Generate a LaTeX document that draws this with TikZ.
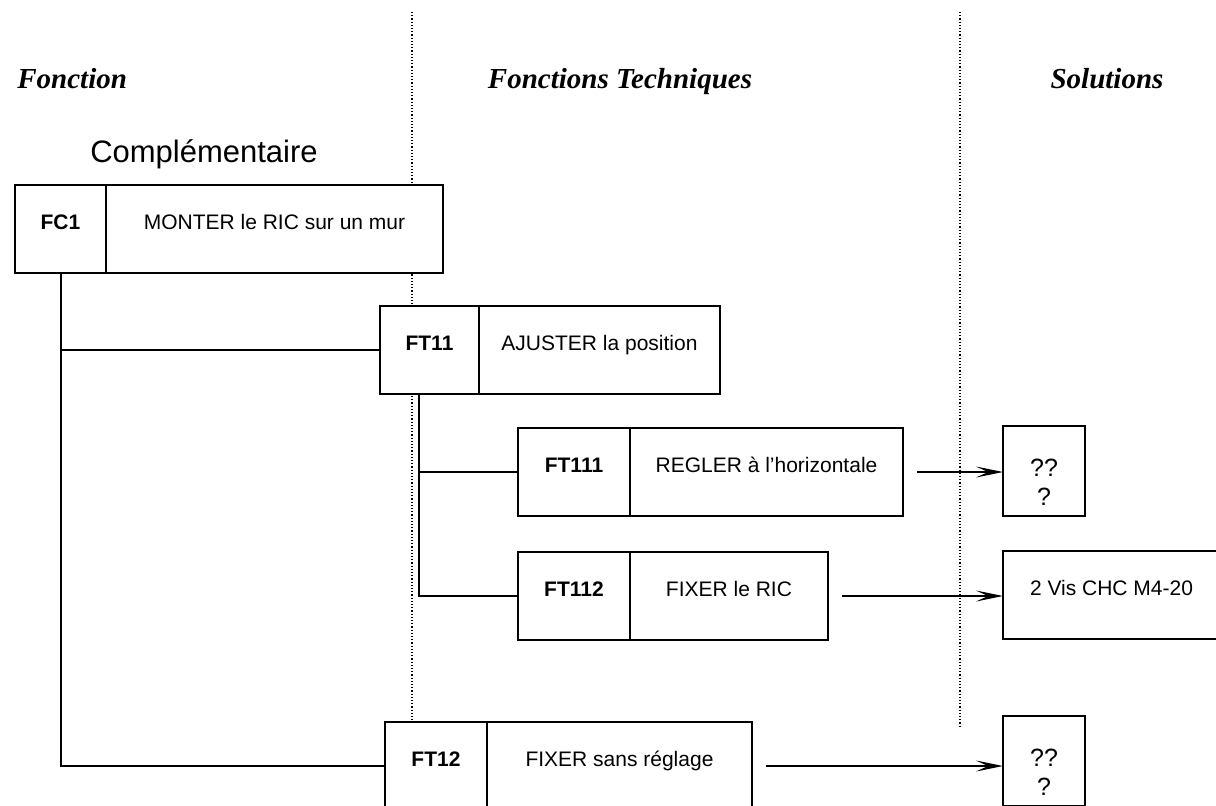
\documentclass[tikz,border=0pt]{standalone}
\usepackage{fontspec}
\setmainfont{Liberation Sans}
\newfontfamily\headfont{Liberation Serif}
\usetikzlibrary{positioning,arrows.meta}

\begin{document}
\begin{tikzpicture}[x=0.5pt, y=-0.5pt,
    cell/.style={draw, line width=1pt, fill=white, inner sep=0pt, outer sep=0pt, text height=22pt, text depth=22pt, font=\fontsize{10.5}{12}\selectfont},
    code/.style={cell, font=\fontsize{10.5}{12}\selectfont\bfseries},
    sol/.style={cell, text height=39.5pt, text depth=5.5pt, align=center, font=\fontsize{12.5}{14.5}\selectfont},
    head/.style={font=\headfont\fontsize{14.5}{16}\selectfont\bfseries\itshape, anchor=base, inner sep=0pt},
    link/.style={line width=1pt},
    arrow/.style={-{Stealth[length=13.5pt, width=5.5pt, inset=6pt]}, line width=0.8pt, shorten <=7pt},
    sep/.style={densely dotted, line width=0.6pt},
]
\useasboundingbox (0,0) rectangle (1216,805);
\clip (0,0) rectangle (1216,805);

% Column dividers
\draw[sep] (412,12) -- (412,722);
\draw[sep] (960,12) -- (960,728);

% Headings
\node[head, anchor=base west] (hfc) at (17,88) {Fonction};
\node[head] (hft) at (620,88) {Fonctions Techniques};
\node[head] (hsol) at (1107,88) {Solutions};
\node[font=\fontsize{15.5}{18}\selectfont, anchor=base, inner sep=0pt] (hcompl) at (204,162) {Complémentaire};

% Functions
\node[code, minimum width=45.5pt] (fc1) at (60.5,229) {FC1};
\node[cell, minimum width=168.5pt, right=0pt of fc1] (fc1t) {MONTER le RIC sur un mur};

\node[code, minimum width=49.5pt] (ft11) at (429.5,350) {FT11};
\node[cell, minimum width=120.5pt, right=0pt of ft11] (ft11t) {AJUSTER la position};

\node[code, minimum width=56pt] (ft111) at (574,472) {FT111};
\node[cell, minimum width=136.5pt, right=0pt of ft111] (ft111t) {REGLER à l'horizontale};

\node[code, minimum width=56pt] (ft112) at (574,596) {FT112};
\node[cell, minimum width=99pt, right=0pt of ft112] (ft112t) {FIXER le RIC};

\node[code, minimum width=51pt] (ft12) at (436,766) {FT12};
\node[cell, minimum width=132.5pt, right=0pt of ft12] (ft12t) {FIXER sans réglage};

% Solutions
\node[sol, minimum width=41pt] (s1) at (1044,471) {??\\?};
\node[cell, minimum width=108.5pt, anchor=west] (s2) at (1003,595) {2 Vis CHC M4-20};
\node[sol, minimum width=41pt] (s3) at (1044,761) {??\\?};

% Tree
\draw[link] (fc1.south) |- (ft11.west);
\draw[link] (fc1.south) |- (ft12.west);
\draw[link] ([xshift=-5.5pt]ft11.south) |- (ft111.west);
\draw[link] ([xshift=-5.5pt]ft11.south) |- (ft112.west);

\draw[arrow] (ft111t.east) -- (ft111t.east -| s1.west);
\draw[arrow] (ft112t.east) -- (ft112t.east -| s2.west);
\draw[arrow] (ft12t.east) -- (ft12t.east -| s3.west);
\end{tikzpicture}
\end{document}
